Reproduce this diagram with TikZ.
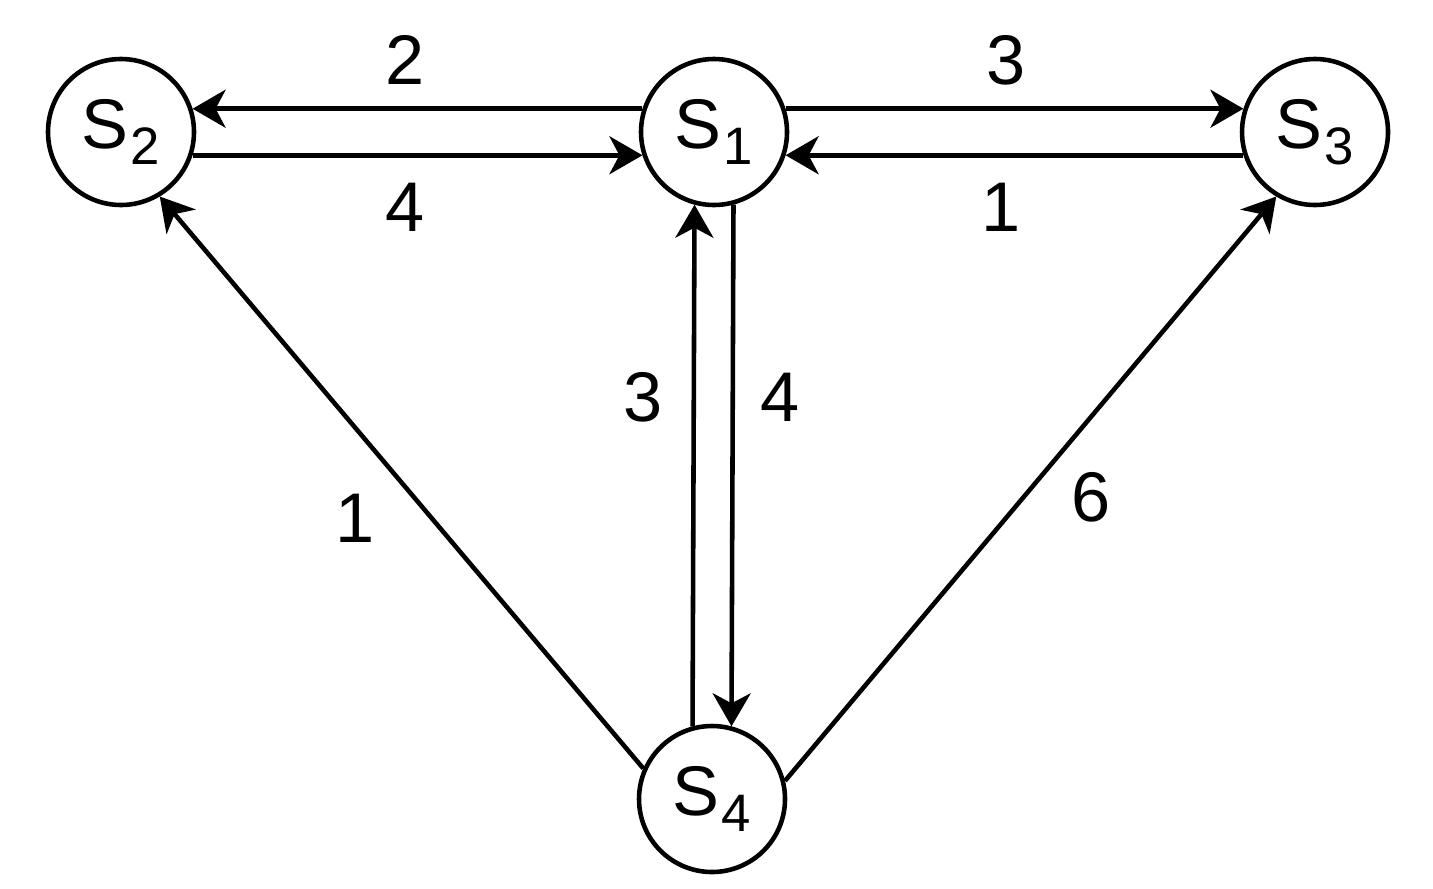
\documentclass[tikz,border=0pt]{standalone}
\usepackage{fontspec}
\setmainfont{Liberation Sans}
\usetikzlibrary{arrows.meta}

\newcommand{\site}[1]{S\kern0.03em\raisebox{-0.42ex}{\fontsize{15}{15}\selectfont #1}}

\begin{document}
\begin{tikzpicture}[>={Stealth[length=0.33cm,width=0.38cm,inset=0.1cm]},line width=1.3pt,
        site/.style={circle,draw=black,inner sep=0pt,minimum size=1.46cm,font=\fontsize{20}{24}\selectfont},
        weight/.style={font=\fontsize{20}{24}\selectfont}]
                \useasboundingbox (0,0) rectangle (14.33,8.88);
                \node[site] (s2) at (1.21, 7.56) {\site{2}};
                \node[site] (s1) at (7.14, 7.56) {\site{1}};
                \node[site] (s3) at (13.15, 7.56) {\site{3}};
                \node[site] (s4) at (7.12, 0.89) {\site{4}};
                \draw[->] (s1.162) -- (s2.18);
                \draw[->] (s2.-18) -- (s1.-162);
                \draw[->] (s1.18) -- (s3.162);
                \draw[->] (s3.-162) -- (s1.-18);
                \draw[->] (s4.105) -- (s1.-105);
                \draw[->] (s1.-75) -- (s4.75);
                \draw[->] (s4.156) -- (s2.-59);
                \draw[->] (s4.14) -- (s3.-121);
                \node[weight] (w12) at (4.05, 8.28) {2};
                \node[weight] (w21) at (4.05, 6.81) {4};
                \node[weight] (w13) at (10.06, 8.28) {3};
                \node[weight] (w31) at (10.01, 6.81) {1};
                \node[weight] (w41) at (6.43, 4.91) {3};
                \node[weight] (w14) at (7.80, 4.91) {4};
                \node[weight] (w42) at (3.55, 3.70) {1};
                \node[weight] (w43) at (10.91, 3.91) {6};
            \end{tikzpicture}
\end{document}
